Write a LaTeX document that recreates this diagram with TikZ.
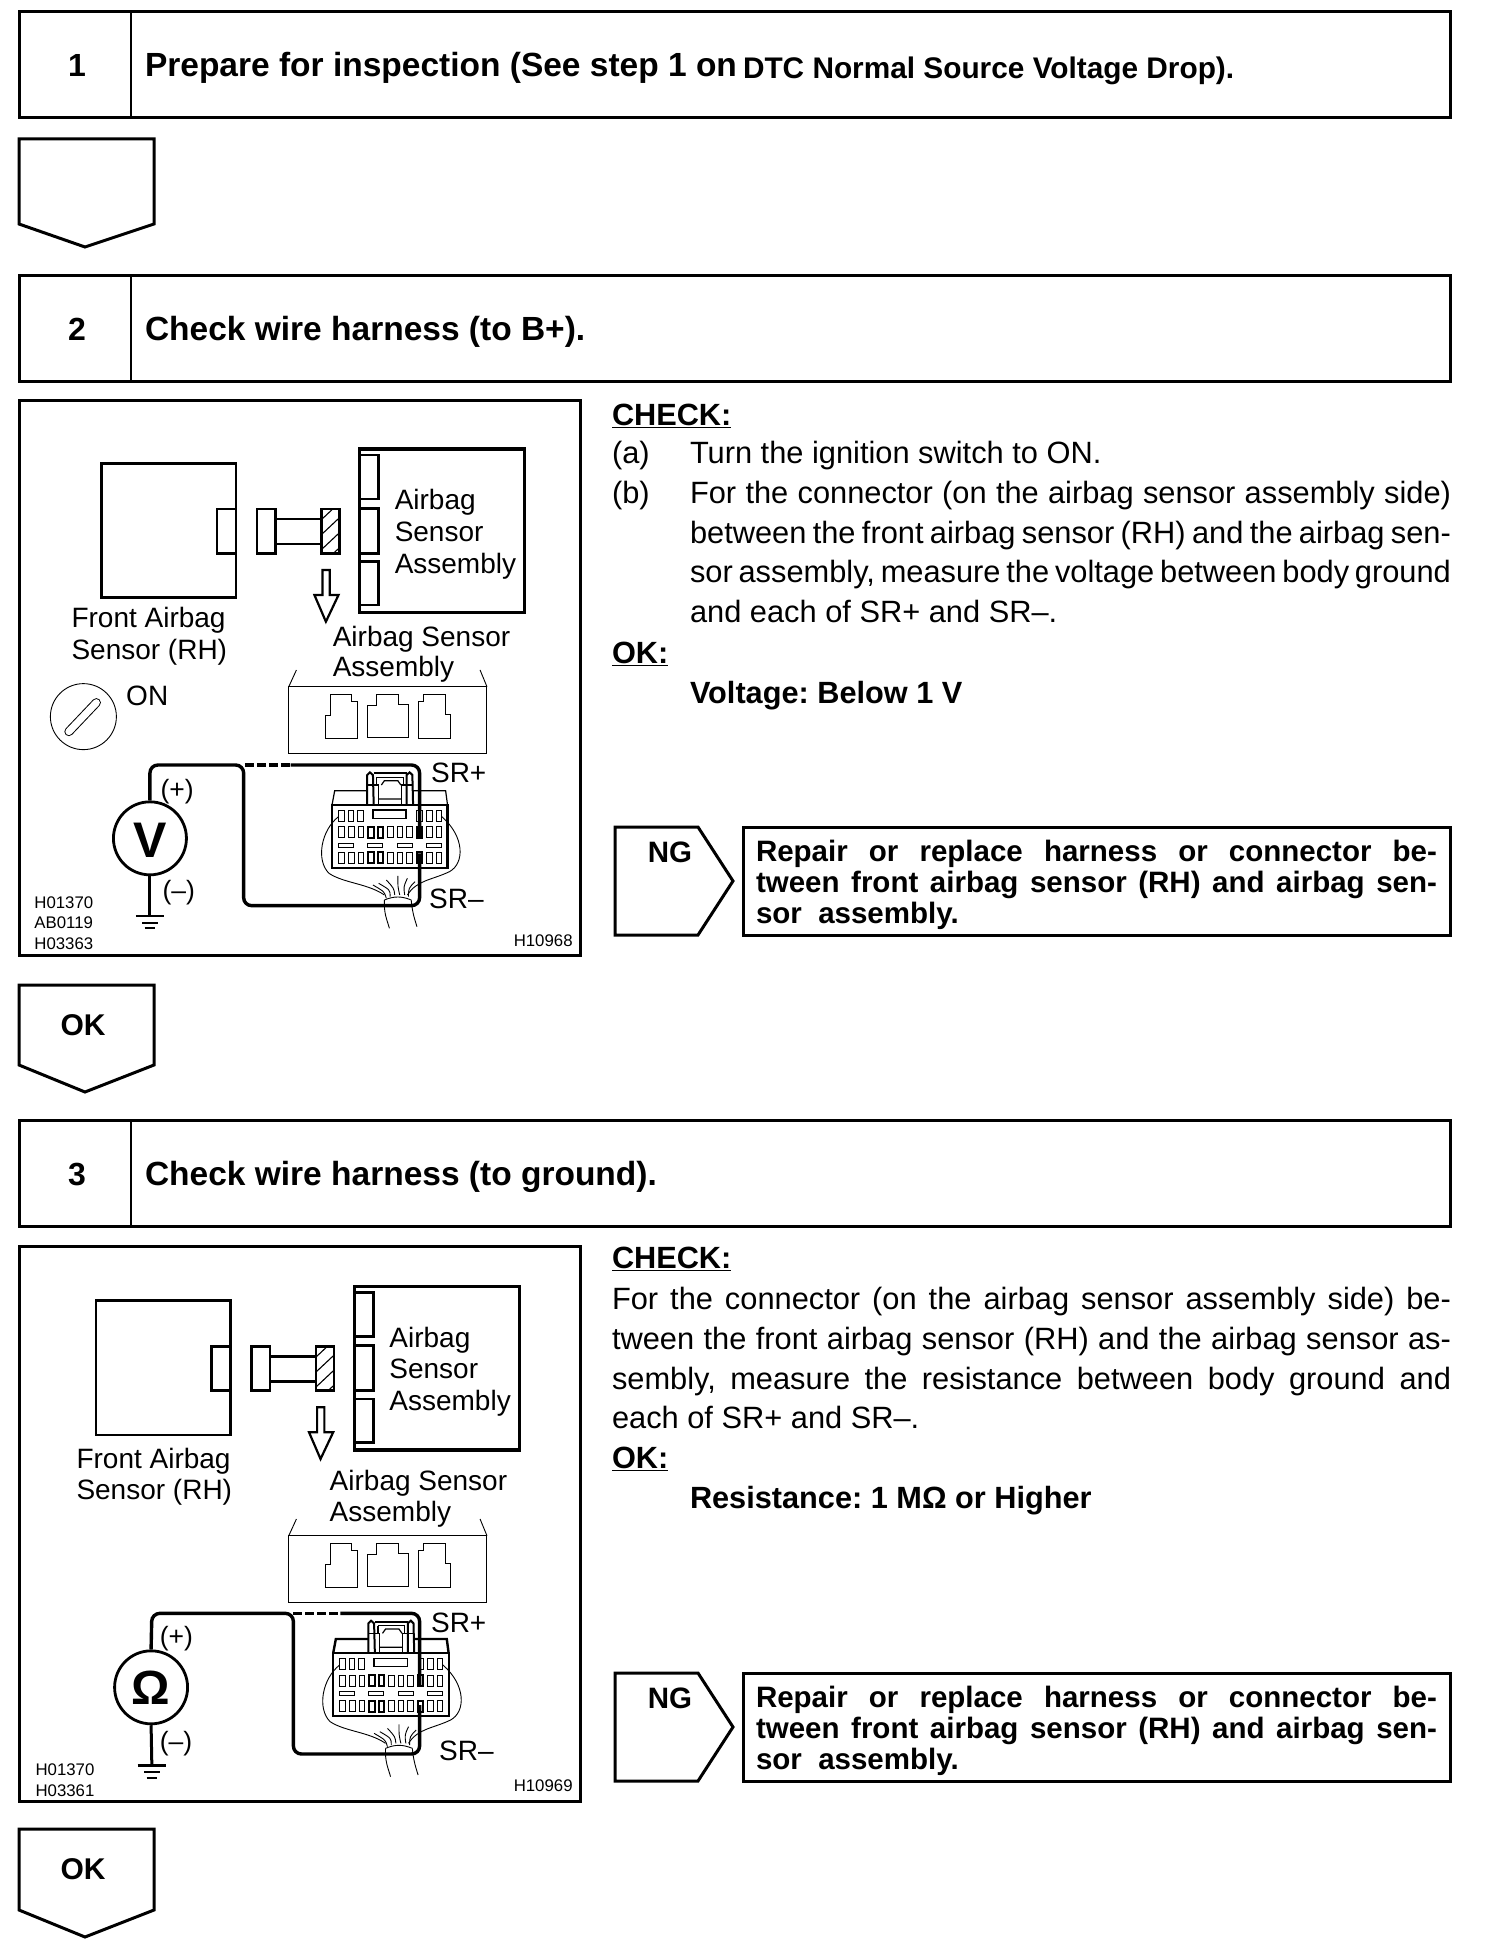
\documentclass[tikz,border=0pt]{standalone}
\usepackage{fontspec}
\setmainfont{Liberation Sans}
\newcommand{\fs}[1]{\fontsize{#1}{#1}\selectfont}
\tikzset{
  tx/.style={anchor=base west,inner sep=0pt,outer sep=0pt},
  lab/.style={tx,font=\fs{28},yshift=-1.5pt},
  tiny/.style={tx,font=\fs{16.8}},
  body/.style={tx,font=\fs{30.8}},
  bodyb/.style={tx,font=\bfseries\fs{30.7}},
  head/.style={tx,font=\bfseries\fs{33.5}},
  frame/.style={draw=black,line width=3pt,fill=white},
  hbox/.style={draw=black,line width=3pt,line join=miter},
  part/.style={draw=black,line width=2.6pt},
  thick part/.style={draw=black,line width=3.3pt},
  thin part/.style={draw=black,line width=0.9pt},
  wire/.style={draw=black,line width=3.4pt,rounded corners=8pt},
  wiredash/.style={draw=black,line width=3.2pt,dash pattern=on 9pt off 3pt},
  pin/.style={draw=black,line width=1pt},
  boldpin/.style={draw=black,line width=2pt}
}
% header bar: #1 name, #2 top, #3 number, #4 text
\newcommand{\headerbar}[4]{%
  \draw[hbox] (19,#2) rectangle (1450,#2+106);
  \draw[line width=1.6pt] (131,#2) -- (131,#2+106);
  \node[tx,font=\bfseries\fs{32},anchor=base] (#1num) at (77,#2+65) {#3};
  \node[head] (#1txt) at (145,#2+65) {#4};
}
% down pentagon: #1 name, #2 top, #3 side end, #4 tip, #5 text
\newcommand{\downpent}[5]{%
  \draw[hbox] (19,#2) -- (154,#2) -- (154,#3) -- (85,#4) -- (19,#3) -- cycle;
  \node[tx,font=\bfseries\fs{30},anchor=base] (#1) at (83,#2+50) {#5};
}
% NG + repair: #1 name, #2 top
\newcommand{\ngrepair}[2]{%
  \draw[hbox] (615,#2) -- (698,#2) -- (733,#2+54) -- (698,#2+108) -- (615,#2+108) -- cycle;
  \node[tx,font=\bfseries\fs{29.5},anchor=base] (#1ng) at (670,#2+35) {NG};
  \draw[hbox] (743,#2) rectangle (1450,#2+108);
  \node[tx,font=\bfseries\fs{29.5}] (#1a) at (756,#2+34) {\makebox[681pt][s]{Repair or replace harness or connector be-}};
  \node[tx,font=\bfseries\fs{29.5}] (#1b) at (756,#2+65) {\makebox[681pt][s]{tween front airbag sensor (RH) and airbag sen-}};
  \node[tx,font=\bfseries\fs{29.5}] (#1c) at (756,#2+96) {sor\ \ assembly.};
}
% sensors, drawn in zoom units
\newcommand{\sensorgroup}{%
  \draw[part] (265,220) rectangle (617,623);
  \draw[part] (617,357) -- (567,357) -- (567,490) -- (617,490);
  \draw[part] (672,357) rectangle (720,490);
  \draw[part] (720,387) -- (840,387) (720,462) -- (840,462);
  \begin{scope}
    \clip (840,357) rectangle (887,490);
    \draw[line width=1.1pt] (830,400) -- (895,330) (830,445) -- (895,375) (830,490) -- (895,420) (830,535) -- (895,465);
  \end{scope}
  \draw[part] (840,357) rectangle (887,490);
  \draw[thick part] (940,177) rectangle (1372,668);
  \draw[part] (940,195) -- (990,195) -- (990,327) -- (940,327);
  \draw[part] (940,355) -- (990,355) -- (990,490) -- (940,490);
  \draw[part] (940,515) -- (990,515) -- (990,645) -- (940,645);
  \draw[line width=2.2pt,line join=miter] (843,540) -- (862,540) -- (862,615) -- (885,615) -- (852,695) -- (822,615) -- (843,615) -- cycle;
  \node[lab] (asm1) at (1032,355) {Airbag};
  \node[lab] (asm2) at (1032,450) {Sensor};
  \node[lab] (asm3) at (1032,545) {Assembly};
}
% housing with three sockets, zoom units
\newcommand{\housing}{%
  \draw[thin part] (755,890) rectangle (1273,1090);
  \draw[thin part] (775,840) -- (755,890) (1255,840) -- (1273,890);
  \draw[thin part] (850,1045) -- (850,975) -- (863,975) -- (863,912) -- (920,912) -- (920,935) -- (935,935) -- (935,1045) -- cycle;
  \draw[thin part] (960,1043) -- (960,945) -- (985,945) -- (985,912) -- (1042,912) -- (1042,942) -- (1068,942) -- (1068,1043) -- cycle;
  \draw[thin part] (1093,1045) -- (1093,935) -- (1108,935) -- (1108,912) -- (1165,912) -- (1165,972) -- (1178,972) -- (1178,1045) -- cycle;
}
% plug, zoom units: #1 width of top edge
\newcommand{\plug}[1]{%
  \draw[line width=#1] (868,195) -- (875,152) -- (960,152) (1080,152) -- (1165,152) -- (1170,195);
  \draw[line width=2.2pt] (868,195) rectangle (1170,383);
  \draw[line width=1.1pt] (868,195) -- (960,195) (1080,195) -- (1170,195);
  \draw[line width=2pt] (960,195) -- (960,105) -- (967,97) -- (975,105) -- (977,195);
  \draw[line width=2pt] (1063,195) -- (1063,105) -- (1071,97) -- (1078,105) -- (1080,195);
  \draw[line width=1.1pt] (960,135) -- (990,135) -- (990,195) (1080,135) -- (1050,135) -- (1050,195);
  \draw[line width=2pt] (977,100) -- (1063,100);
  \draw[line width=1.2pt] (985,112) -- (1055,112) (985,112) -- (985,135) (1055,112) -- (1055,135);
  \draw[line width=1.2pt] (997,135) -- (1005,122) -- (1040,122) -- (1048,135) (990,177) -- (1050,177);
  \foreach \px in {885,910,935,1090,1115,1140}
    \draw[pin] (\px,210) rectangle (\px+15,243);
  \draw[line width=1.6pt] (975,210) rectangle (1062,235);
  \foreach \i in {0,...,10} {
    \draw[pin] (885+25.5*\i,260) rectangle (885+25.5*\i+15,293);
    \draw[pin] (885+25.5*\i,337) rectangle (885+25.5*\i+15,370);
  }
  \foreach \px in {961.5,987,1089} {
    \draw[boldpin] (\px,260) rectangle (\px+15,293);
    \draw[boldpin] (\px,337) rectangle (\px+15,370);
  }
  \foreach \px in {885,960,1038,1115}
    \draw[pin] (\px,310) rectangle (\px+40,322);
  \draw[thin part] (885,230) .. controls (840,270) and (825,360) .. (860,400) .. controls (900,430) and (960,430) .. (1005,465);
  \draw[thin part] (1155,230) .. controls (1215,290) and (1215,370) .. (1175,395) .. controls (1130,420) and (1090,420) .. (1065,465);
  \draw[thin part] (1010,475) .. controls (1005,455) .. (975,435) (1020,470) .. controls (1020,450) .. (990,430) (1032,465) .. controls (1030,445) .. (1010,420) (1045,465) .. controls (1040,440) .. (1040,408) (1058,465) .. controls (1055,440) .. (1065,415) (1068,470) .. controls (1068,445) .. (1085,425);
  \draw[thin part] (1005,480) .. controls (1030,468) and (1050,468) .. (1075,480);
  \draw[thin part] (1005,480) .. controls (1003,520) and (1012,540) .. (1018,565);
  \draw[thin part] (1075,480) .. controls (1078,520) and (1085,540) .. (1090,560);
}
% earth: #1 x, #2 y
\newcommand{\earth}[2]{%
  \draw[line width=2.6pt] (#1-37,#2) -- (#1+37,#2);
  \draw[line width=2pt] (#1-20,#2+20) -- (#1+20,#2+20);
  \draw[line width=2pt] (#1-14,#2+37) -- (#1+14,#2+37);
}
\begin{document}
\frenchspacing
\begin{tikzpicture}[x=1pt,y=-1pt]
\useasboundingbox (0,0) rectangle (1504,1948);
\fill[white] (0,0) rectangle (1504,1948);

% ---- step 1
\headerbar{a}{12}{1}{Prepare for inspection (See step 1 on}
\node[tx,font=\bfseries\fs{29.8}] (a2) at (743,79) {DTC Normal Source Voltage Drop).};
\downpent{pa}{139}{224}{247}{}

% ---- step 2
\headerbar{b}{275}{2}{Check wire harness (to B+).}
\draw[frame] (19,400) rectangle (580,955);
\begin{scope}[shift={(0,390)},x=0.3825pt,y=-0.3333pt]
  \begin{scope}[name prefix=s2]\sensorgroup\end{scope}
  \node[lab] (fa1) at (187,708) {Front Airbag};
  \node[lab] (fa2) at (187,803) {Sensor (RH)};
  \node[lab] (as1) at (870,765) {Airbag Sensor};
  \node[lab] (as2) at (870,855) {Assembly};
  \housing
  \draw[thin part] (218,980) circle (33pt);
  \draw[line width=9pt,line cap=round] (180,1025) -- (252,938);
  \draw[white,line width=7pt,line cap=round] (180,1025) -- (252,938);
  \node[lab] (on) at (330,942) {ON};
\end{scope}
\begin{scope}[shift={(0,740)},x=0.3825pt,y=-0.3333pt]
  \plug{1.2pt}
  \node[draw,line width=2.8pt,circle,minimum size=73pt,inner sep=0pt] (vm) at (392,295) {};
  \node[font=\bfseries\fs{50},inner sep=0pt] (vt) at (392,300) {V};
  \coordinate (srp) at (1097,295);
  \coordinate (srn) at (1097,340);
  \coordinate (gnd) at (392,528);
  \draw[line width=3pt] (vm.south) -- (gnd);
  \earth{392}{528}
  \draw[wire] (vm.north) -- (392,75) -- (637,75) -- (637,497) -- (1097,497) -- (srn);
  \draw[wire] (760,75) -- (1097,75) -- (srp);
  \draw[wiredash] (640,75) -- (760,75);
  \node[tx,font=\fs{26.5}] (pl) at (420,175) {(+)};
  \node[tx,font=\fs{26.5}] (mi) at (425,478) {(–)};
  \node[lab] (srpl) at (1127,122) {SR+};
  \node[lab] (srmi) at (1122,500) {SR–};
  \node[tiny] (c1) at (90,507) {H01370};
  \node[tiny] (c2) at (90,567) {AB0119};
  \node[tiny] (c3) at (90,628) {H03363};
  \node[tiny,anchor=base east] (c4) at (1497,620) {H10968};
\end{scope}
\node[bodyb] (ck) at (612,425) {\underline{CHECK:}};
\node[body] (la) at (612,463) {(a)};
\node[body] (ta) at (690,463) {Turn the ignition switch to ON.};
\node[body] (lb) at (612,503) {(b)};
\node[body] (tb1) at (690,503) {\makebox[761pt][s]{For the connector (on the airbag sensor assembly side)}};
\node[body] (tb2) at (690,543) {\makebox[761pt][s]{between the front airbag sensor (RH) and the airbag sen-}};
\node[body] (tb3) at (690,582) {\makebox[761pt][s]{sor assembly, measure the voltage between body ground}};
\node[body] (tb4) at (690,622) {and each of SR+ and SR–.};
\node[bodyb] (ok) at (612,663) {\underline{OK:}};
\node[bodyb] (vv) at (690,703) {Voltage: Below 1 V};
\ngrepair{r2}{827}
\downpent{pb}{985}{1065}{1092}{OK}

% ---- step 3
\headerbar{c}{1120}{3}{Check wire harness (to ground).}
\draw[frame] (19,1246) rectangle (580,1801);
\begin{scope}[shift={(0,1230)},x=0.3825pt,y=-0.3333pt]
  \begin{scope}[shift={(-14,-8)},name prefix=s3]\sensorgroup\end{scope}
  \node[lab] (fb1) at (200,712) {Front Airbag};
  \node[lab] (fb2) at (200,805) {Sensor (RH)};
  \node[lab] (bs1) at (862,777) {Airbag Sensor};
  \node[lab] (bs2) at (862,870) {Assembly};
  \begin{scope}[shift={(0,27)}]\housing\end{scope}
\end{scope}
\begin{scope}[shift={(0,1570)},x=0.3825pt,y=-0.3333pt]
  \begin{scope}[shift={(3,55)}]\plug{2.4pt}\end{scope}
  \node[draw,line width=2.8pt,circle,minimum size=73pt,inner sep=0pt] (om) at (395,352) {};
  \node[font=\bfseries\fs{48},inner sep=0pt] (ot) at (395,352) {Ω};
  \coordinate (srpb) at (1097,345);
  \coordinate (srnb) at (1097,405);
  \coordinate (gndb) at (397,587);
  \draw[line width=3pt] (om.south) -- (gndb);
  \earth{397}{587}
  \draw[wire] (om.north) -- (397,130) -- (767,130) -- (767,552) -- (1097,552) -- (srnb);
  \draw[wire] (890,130) -- (1097,130) -- (srpb);
  \draw[wiredash] (767,130) -- (890,130);
  \node[tx,font=\fs{26.5}] (pm) at (418,225) {(+)};
  \node[tx,font=\fs{26.5}] (mm) at (418,540) {(–)};
  \node[lab] (srpm) at (1127,183) {SR+};
  \node[lab] (srmm) at (1148,568) {SR–};
  \node[tiny] (d1) at (93,617) {H01370};
  \node[tiny] (d2) at (93,680) {H03361};
  \node[tiny,anchor=base east] (d3) at (1497,665) {H10969};
\end{scope}
\node[bodyb] (ckb) at (612,1268) {\underline{CHECK:}};
\node[body] (u1) at (612,1309) {\makebox[839pt][s]{For the connector (on the airbag sensor assembly side) be-}};
\node[body] (u2) at (612,1349) {\makebox[839pt][s]{tween the front airbag sensor (RH) and the airbag sensor as-}};
\node[body] (u3) at (612,1389) {\makebox[839pt][s]{sembly, measure the resistance between body ground and}};
\node[body] (u4) at (612,1428) {each of SR+ and SR–.};
\node[bodyb] (okb) at (612,1468) {\underline{OK:}};
\node[bodyb] (rr) at (690,1508) {Resistance: 1 MΩ or Higher};
\ngrepair{r3}{1673}
\downpent{pc}{1829}{1910}{1937}{OK}
\end{tikzpicture}
\end{document}
